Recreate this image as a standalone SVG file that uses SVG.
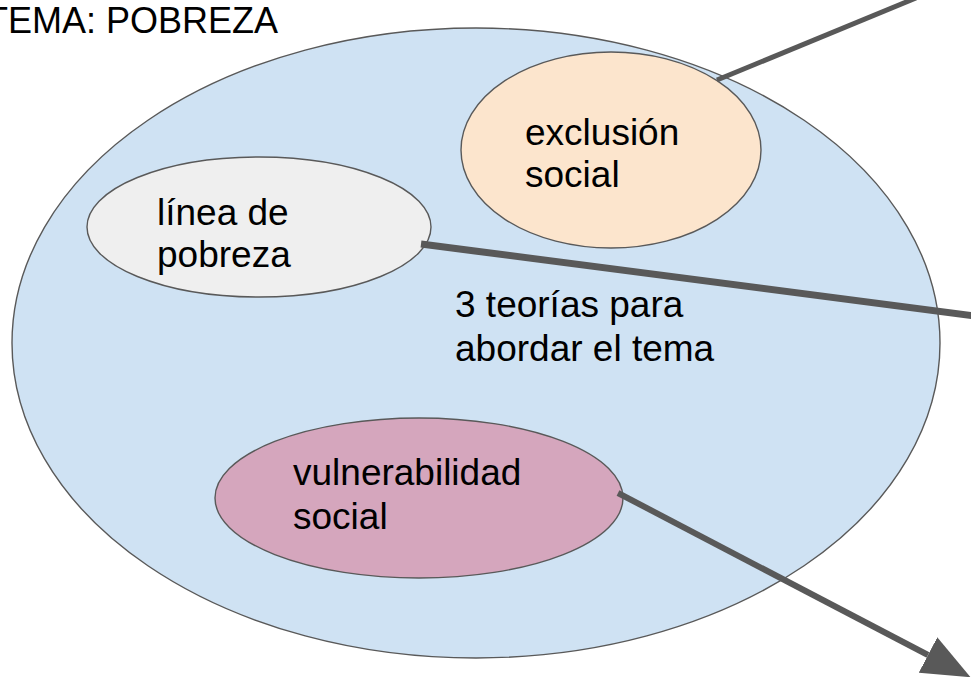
<svg xmlns="http://www.w3.org/2000/svg" width="971" height="677" viewBox="0 0 971 677">
<style>
.shape{stroke:#595959;stroke-width:1.4}
.t{font-family:"Liberation Sans",Arial,sans-serif;font-size:37px;fill:#000}
.conn{stroke:#595959;fill:none;stroke-linecap:butt}
</style>
<defs>
<marker id="arrow" markerUnits="userSpaceOnUse" viewBox="0 -20 48 40" markerWidth="48" markerHeight="40" refX="0" refY="0" orient="auto">
<path d="M0,-20 L48,0 L0,20 Z" fill="#595959"/>
</marker>
</defs>
<rect width="971" height="677" fill="#fff"/>
<g id="title"><text class="t" x="-14" y="33" style="font-size:36px">TEMA: POBREZA</text></g>
<g id="tema">
<ellipse class="shape" cx="476" cy="343" rx="464" ry="315" fill="#cfe2f3"/>
<text class="t" x="455" y="317">3 teorías para</text>
<text class="t" x="455" y="361">abordar el tema</text>
</g>
<g id="exclusion">
<ellipse class="shape" cx="611" cy="150" rx="150" ry="98" fill="#fce5cd"/>
<text class="t" x="525" y="145">exclusión</text>
<text class="t" x="525" y="187">social</text>
</g>
<g id="linea">
<ellipse class="shape" cx="259" cy="227" rx="172" ry="70" fill="#efefef"/>
<text class="t" x="157" y="225">línea de</text>
<text class="t" x="157" y="267">pobreza</text>
</g>
<g id="vulnerabilidad">
<ellipse class="shape" cx="419" cy="498" rx="204" ry="80" fill="#d5a6bd"/>
<text class="t" x="293" y="485">vulnerabilidad</text>
<text class="t" x="293" y="529">social</text>
</g>
<g id="connectors">
<line class="conn" x1="717" y1="80" x2="916" y2="-2" stroke-width="5"/>
<line class="conn" x1="421" y1="244" x2="975" y2="316" stroke-width="7"/>
<line class="conn" x1="618" y1="493" x2="928" y2="655" stroke-width="6" marker-end="url(#arrow)"/>
</g>
</svg>
